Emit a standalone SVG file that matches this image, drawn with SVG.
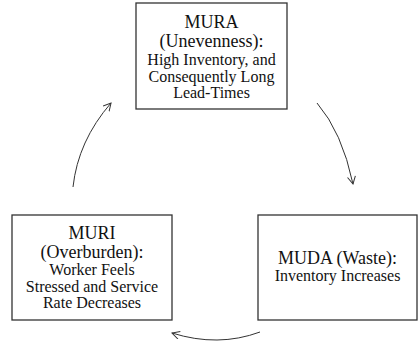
<svg xmlns="http://www.w3.org/2000/svg" width="419" height="348" viewBox="0 0 419 348">
<style>
.box{fill:#fff;stroke:#333;stroke-width:1.3}
.h{font-family:"Liberation Serif","Times New Roman",serif;font-size:18px;fill:#111;text-anchor:middle}
.b{font-family:"Liberation Serif","Times New Roman",serif;font-size:16px;fill:#111;text-anchor:middle}
.arr{fill:none;stroke:#333;stroke-width:1;marker-end:url(#ah)}
</style>
<defs>
<marker id="ah" markerUnits="userSpaceOnUse" markerWidth="12" markerHeight="12" refX="8" refY="4.5" orient="auto">
<path d="M0.5,0.5 L8,4.5 L0.5,8.5" fill="none" stroke="#333" stroke-width="1"/>
</marker>
</defs>
<g id="mura">
<rect class="box" x="136" y="3" width="151" height="106"/>
<text class="h" x="211.5" y="28">MURA</text>
<text class="h" x="211.5" y="47">(Unevenness):</text>
<text class="b" x="211.5" y="65">High Inventory, and</text>
<text class="b" x="211.5" y="82">Consequently Long</text>
<text class="b" x="211.5" y="98">Lead-Times</text>
</g>
<g id="muda">
<rect class="box" x="258" y="215" width="159" height="105"/>
<text class="h" x="337.5" y="264">MUDA (Waste):</text>
<text class="b" x="337.5" y="281">Inventory Increases</text>
</g>
<g id="muri">
<rect class="box" x="12" y="215" width="160" height="105"/>
<text class="h" x="92" y="239">MURI</text>
<text class="h" x="92" y="258">(Overburden):</text>
<text class="b" x="92" y="275">Worker Feels</text>
<text class="b" x="92" y="292">Stressed and Service</text>
<text class="b" x="92" y="308">Rate Decreases</text>
</g>
<g id="connectors">
<path class="arr" d="M73,187 Q78,141 111,103"/>
<path class="arr" d="M317,103 Q342,132 353,184"/>
<path class="arr" d="M260,332 Q218,347.5 172,333"/>
</g>
</svg>
